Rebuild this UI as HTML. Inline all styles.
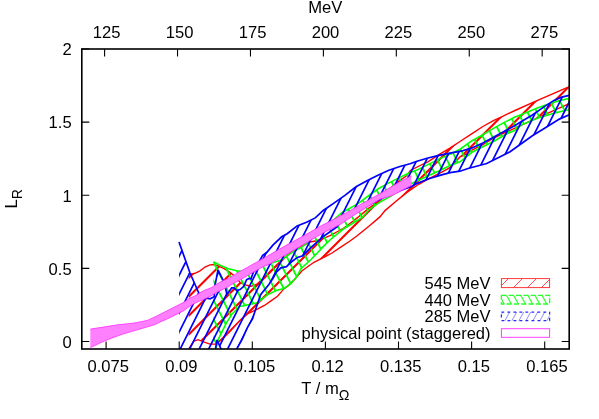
<!DOCTYPE html>
<html><head><meta charset="utf-8"><title>plot</title>
<style>html,body{margin:0;padding:0;background:#fff}svg{display:block;will-change:transform}text{font-family:"Liberation Sans",sans-serif;fill:#000}</style></head>
<body>
<svg width="599" height="419" viewBox="0 0 599 419">
<rect x="0" y="0" width="599" height="419" fill="#fff"/>
<defs>
<clipPath id="plot"><rect x="81.8" y="49.0" width="487.4" height="300.0"/></clipPath>
<clipPath id="c-red"><polygon points="188.7,273.6 192.0,274.0 195.0,273.3 200.0,270.8 205.0,267.0 210.0,264.9 214.2,264.5 218.4,265.8 224.2,268.7 230.0,272.4 234.2,275.8 240.0,282.3 245.5,285.0 251.0,286.2 256.5,284.5 262.0,279.6 267.4,274.1 272.9,268.6 277.3,264.2 285.0,257.0 295.0,249.0 310.0,242.0 316.7,240.7 323.4,238.4 330.0,235.7 336.7,232.0 343.4,228.3 348.0,225.0 357.9,217.4 368.9,208.1 374.4,204.3 385.0,193.0 397.7,181.8 406.5,175.8 410.3,170.5 421.2,165.0 427.9,161.8 438.9,154.7 449.9,148.1 460.0,141.5 472.0,133.6 482.9,126.5 493.9,120.4 501.6,116.8 515.0,110.5 533.6,102.1 569.3,86.7 569.3,103.7 539.6,116.9 515.0,128.1 504.9,132.5 493.9,138.0 482.9,144.6 472.0,150.0 466.5,153.9 460.0,156.9 450.0,167.7 439.9,173.2 428.9,178.7 417.9,184.8 407.0,192.4 396.0,201.2 385.0,210.6 379.9,216.9 368.9,226.2 356.8,236.0 350.0,241.0 340.0,247.7 332.0,253.0 323.8,257.3 313.9,262.3 301.8,271.0 295.0,279.0 288.3,285.6 283.9,288.9 277.5,296.3 271.0,300.9 264.4,305.5 257.8,308.8 251.3,312.1 248.3,313.3 240.0,320.5 229.9,331.4 221.1,340.2 215.6,344.1 210.1,344.1 203.5,341.9 198.0,339.7 193.7,341.3 189.3,347.9 188.7,355.0"/></clipPath>
<clipPath id="c-green"><polygon points="213.4,261.7 220.0,265.3 228.4,268.7 236.7,270.8 240.0,271.2 250.0,271.0 262.0,266.0 281.0,260.1 292.0,252.4 302.9,246.4 320.0,232.0 341.5,213.0 358.0,203.7 368.9,195.5 377.9,189.0 388.9,182.9 399.9,177.4 410.0,172.5 417.0,170.1 427.9,164.6 438.9,159.1 449.9,154.2 460.0,149.2 472.0,140.7 482.9,134.7 493.9,128.1 504.9,122.1 515.0,117.1 521.0,114.7 537.4,108.1 553.9,102.1 569.3,98.2 569.3,109.5 553.9,113.2 537.4,118.2 521.0,125.1 515.0,130.3 504.9,134.7 493.9,141.3 482.9,146.8 472.0,152.3 460.0,161.8 450.0,165.5 439.9,170.5 428.9,175.4 417.9,180.4 411.4,183.7 400.0,190.0 390.0,196.6 379.9,202.1 368.9,209.8 362.6,217.2 354.9,222.0 348.7,225.7 343.4,229.0 336.7,234.3 330.0,240.0 323.4,246.4 317.3,253.0 311.0,259.5 300.7,268.9 297.1,276.3 290.5,284.0 283.9,288.4 276.2,290.5 267.4,294.9 257.6,302.6 251.0,304.3 243.3,305.9 240.0,306.2 232.1,313.9 226.6,322.7 222.2,331.4 218.4,339.1 216.2,347.9 213.4,355.0"/></clipPath>
<clipPath id="c-blue"><polygon points="179.0,242.0 190.0,273.0 199.0,293.5 206.7,298.2 210.0,298.8 214.2,296.7 215.0,285.4 218.0,270.0 223.4,280.8 226.0,290.0 226.9,294.4 229.5,291.0 231.7,287.9 234.2,287.9 236.7,290.5 240.0,289.6 243.4,286.7 245.0,283.4 246.6,279.6 249.3,278.5 251.0,279.0 253.0,273.0 262.5,255.6 266.9,252.3 272.9,245.1 281.7,236.8 287.2,233.7 297.1,225.9 306.5,222.3 315.3,217.9 322.9,210.7 333.9,203.1 344.9,195.4 356.0,186.8 367.0,180.7 377.9,175.3 388.9,170.3 399.9,166.5 410.0,163.7 417.0,161.3 427.9,158.0 438.9,155.3 449.9,153.1 461.0,151.2 472.0,147.9 482.9,142.9 493.9,136.9 504.9,130.9 515.0,125.4 521.0,121.8 532.0,115.3 542.9,107.6 553.9,100.4 561.6,97.1 569.3,95.3 569.3,114.7 559.4,119.1 546.2,127.3 532.0,136.0 510.1,151.8 486.7,163.5 468.0,168.5 460.0,171.2 450.0,172.7 439.9,175.4 428.9,178.7 417.9,183.1 411.4,186.4 390.0,194.5 374.4,202.0 357.9,211.0 341.5,221.0 336.7,227.0 330.0,231.7 323.4,236.4 316.7,242.4 310.0,248.4 302.9,255.7 297.4,257.4 292.0,261.5 286.5,266.6 281.0,267.8 276.4,272.0 272.9,278.5 268.5,285.1 263.1,291.6 260.5,295.0 256.5,306.8 252.6,318.6 247.3,327.8 242.0,339.6 236.8,348.8 236.5,350.0 221.5,350.0 217.0,340.0 214.5,355.0 179.2,355.0"/></clipPath>
<clipPath id="c-mag"><polygon points="90.3,328.7 118.0,324.4 134.0,322.7 147.4,320.0 150.0,318.8 158.0,315.0 166.7,310.5 183.4,302.1 190.0,297.7 195.0,295.5 203.4,290.4 211.7,287.1 216.7,283.7 223.4,280.0 228.4,278.3 241.7,270.0 245.0,268.3 266.9,256.0 283.9,246.2 294.9,240.2 305.0,234.7 321.8,225.0 330.0,220.9 346.7,212.1 363.4,202.5 380.0,193.3 388.9,187.9 399.9,181.3 411.3,175.4 411.3,185.9 392.2,196.0 380.0,199.6 367.6,207.1 355.0,215.0 340.0,225.0 325.0,232.3 313.9,238.7 292.0,251.6 270.0,264.2 262.0,267.7 251.0,273.8 245.0,277.5 230.0,285.7 228.4,287.1 216.7,292.7 211.7,295.9 203.4,300.0 195.0,303.4 190.0,306.4 183.4,311.3 166.7,319.6 160.0,322.4 155.0,325.0 150.0,326.5 138.0,330.0 122.0,334.7 106.0,340.7 90.3,348.0"/></clipPath>
</defs>
<g clip-path="url(#plot)" fill="none" stroke-linejoin="miter" stroke-miterlimit="3" stroke-linecap="butt">
<g clip-path="url(#c-red)"><path d="M183.7 245.1L574.3 -145.5M183.7 264.0L574.3 -126.6M183.7 282.9L574.3 -107.7M183.7 301.8L574.3 -88.8M183.7 320.7L574.3 -69.9M183.7 339.6L574.3 -51.0M183.7 358.5L574.3 -32.1M183.7 377.4L574.3 -13.2M183.7 396.3L574.3 5.7M183.7 415.2L574.3 24.6M183.7 434.1L574.3 43.5M183.7 453.0L574.3 62.4M183.7 471.9L574.3 81.3M183.7 490.8L574.3 100.2M183.7 509.7L574.3 119.1" stroke="#ff0000" stroke-width="2.1"/></g>
<polyline points="188.7,273.6 192.0,274.0 195.0,273.3 200.0,270.8 205.0,267.0 210.0,264.9 214.2,264.5 218.4,265.8 224.2,268.7 230.0,272.4 234.2,275.8 240.0,282.3 245.5,285.0 251.0,286.2 256.5,284.5 262.0,279.6 267.4,274.1 272.9,268.6 277.3,264.2 285.0,257.0 295.0,249.0 310.0,242.0 316.7,240.7 323.4,238.4 330.0,235.7 336.7,232.0 343.4,228.3 348.0,225.0 357.9,217.4 368.9,208.1 374.4,204.3 385.0,193.0 397.7,181.8 406.5,175.8 410.3,170.5 421.2,165.0 427.9,161.8 438.9,154.7 449.9,148.1 460.0,141.5 472.0,133.6 482.9,126.5 493.9,120.4 501.6,116.8 515.0,110.5 533.6,102.1 569.3,86.7" stroke="#ff0000" stroke-width="1.4"/>
<polyline points="188.7,355.0 189.3,347.9 193.7,341.3 198.0,339.7 203.5,341.9 210.1,344.1 215.6,344.1 221.1,340.2 229.9,331.4 240.0,320.5 248.3,313.3 251.3,312.1 257.8,308.8 264.4,305.5 271.0,300.9 277.5,296.3 283.9,288.9 288.3,285.6 295.0,279.0 301.8,271.0 313.9,262.3 323.8,257.3 332.0,253.0 340.0,247.7 350.0,241.0 356.8,236.0 368.9,226.2 379.9,216.9 385.0,210.6 396.0,201.2 407.0,192.4 417.9,184.8 428.9,178.7 439.9,173.2 450.0,167.7 460.0,156.9 466.5,153.9 472.0,150.0 482.9,144.6 493.9,138.0 504.9,132.5 515.0,128.1 539.6,116.9 569.3,103.7" stroke="#ff0000" stroke-width="1.4"/>
<g clip-path="url(#c-green)"><path d="M208.4 -658.8L574.3 73.0M208.4 -639.8L574.3 92.0M208.4 -620.8L574.3 111.0M208.4 -601.8L574.3 129.9M208.4 -582.9L574.3 148.9M208.4 -563.9L574.3 167.9M208.4 -544.9L574.3 186.9M208.4 -526.0L574.3 205.8M208.4 -507.0L574.3 224.8M208.4 -488.0L574.3 243.8M208.4 -469.1L574.3 262.7M208.4 -450.1L574.3 281.7M208.4 -431.1L574.3 300.7M208.4 -412.1L574.3 319.6M208.4 -393.2L574.3 338.6M208.4 -374.2L574.3 357.6M208.4 -355.2L574.3 376.6M208.4 -336.3L574.3 395.5M208.4 -317.3L574.3 414.5M208.4 -298.3L574.3 433.5M208.4 -279.4L574.3 452.4M208.4 -260.4L574.3 471.4M208.4 -241.4L574.3 490.4M208.4 -222.4L574.3 509.3M208.4 -203.5L574.3 528.3M208.4 -184.5L574.3 547.3M208.4 -165.5L574.3 566.3M208.4 -146.6L574.3 585.2M208.4 -127.6L574.3 604.2M208.4 -108.6L574.3 623.2M208.4 -89.7L574.3 642.1M208.4 -70.7L574.3 661.1M208.4 -51.7L574.3 680.1M208.4 -32.7L574.3 699.0M208.4 -13.8L574.3 718.0M208.4 5.2L574.3 737.0M208.4 24.2L574.3 756.0M208.4 43.1L574.3 774.9M208.4 62.1L574.3 793.9M208.4 81.1L574.3 812.9M208.4 100.0L574.3 831.8M208.4 119.0L574.3 850.8M208.4 138.0L574.3 869.8M208.4 156.9L574.3 888.7M208.4 175.9L574.3 907.7M208.4 194.9L574.3 926.7M208.4 213.9L574.3 945.7M208.4 232.8L574.3 964.6M208.4 251.8L574.3 983.6M208.4 270.8L574.3 1002.6M208.4 289.7L574.3 1021.5M208.4 308.7L574.3 1040.5M208.4 327.7L574.3 1059.5M208.4 346.6L574.3 1078.4M208.4 365.6L574.3 1097.4" stroke="#00ff00" stroke-width="1.8"/></g>
<polyline points="213.4,261.7 220.0,265.3 228.4,268.7 236.7,270.8 240.0,271.2 250.0,271.0 262.0,266.0 281.0,260.1 292.0,252.4 302.9,246.4 320.0,232.0 341.5,213.0 358.0,203.7 368.9,195.5 377.9,189.0 388.9,182.9 399.9,177.4 410.0,172.5 417.0,170.1 427.9,164.6 438.9,159.1 449.9,154.2 460.0,149.2 472.0,140.7 482.9,134.7 493.9,128.1 504.9,122.1 515.0,117.1 521.0,114.7 537.4,108.1 553.9,102.1 569.3,98.2" stroke="#00ff00" stroke-width="1.6"/>
<polyline points="213.4,355.0 216.2,347.9 218.4,339.1 222.2,331.4 226.6,322.7 232.1,313.9 240.0,306.2 243.3,305.9 251.0,304.3 257.6,302.6 267.4,294.9 276.2,290.5 283.9,288.4 290.5,284.0 297.1,276.3 300.7,268.9 311.0,259.5 317.3,253.0 323.4,246.4 330.0,240.0 336.7,234.3 343.4,229.0 348.7,225.7 354.9,222.0 362.6,217.2 368.9,209.8 379.9,202.1 390.0,196.6 400.0,190.0 411.4,183.7 417.9,180.4 428.9,175.4 439.9,170.5 450.0,165.5 460.0,161.8 472.0,152.3 482.9,146.8 493.9,141.3 504.9,134.7 515.0,130.3 521.0,125.1 537.4,118.2 553.9,113.2 569.3,109.5" stroke="#00ff00" stroke-width="1.6"/>
<g clip-path="url(#c-blue)"><path d="M174.0 228.6L574.3 -572.0M174.0 247.5L574.3 -553.1M174.0 266.5L574.3 -534.1M174.0 285.5L574.3 -515.1M174.0 304.4L574.3 -496.2M174.0 323.4L574.3 -477.2M174.0 342.4L574.3 -458.2M174.0 361.4L574.3 -439.2M174.0 380.3L574.3 -420.3M174.0 399.3L574.3 -401.3M174.0 418.3L574.3 -382.3M174.0 437.2L574.3 -363.4M174.0 456.2L574.3 -344.4M174.0 475.2L574.3 -325.4M174.0 494.1L574.3 -306.5M174.0 513.1L574.3 -287.5M174.0 532.1L574.3 -268.5M174.0 551.0L574.3 -249.5M174.0 570.0L574.3 -230.6M174.0 589.0L574.3 -211.6M174.0 608.0L574.3 -192.6M174.0 626.9L574.3 -173.7M174.0 645.9L574.3 -154.7M174.0 664.9L574.3 -135.7M174.0 683.8L574.3 -116.8M174.0 702.8L574.3 -97.8M174.0 721.8L574.3 -78.8M174.0 740.8L574.3 -59.8M174.0 759.7L574.3 -40.9M174.0 778.7L574.3 -21.9M174.0 797.7L574.3 -2.9M174.0 816.6L574.3 16.0M174.0 835.6L574.3 35.0M174.0 854.6L574.3 54.0M174.0 873.5L574.3 72.9M174.0 892.5L574.3 91.9M174.0 911.5L574.3 110.9M174.0 930.4L574.3 129.8" stroke="#0000ff" stroke-width="1.7"/></g>
<polyline points="179.0,242.0 190.0,273.0 199.0,293.5 206.7,298.2 210.0,298.8 214.2,296.7 215.0,285.4 218.0,270.0 223.4,280.8 226.0,290.0 226.9,294.4 229.5,291.0 231.7,287.9 234.2,287.9 236.7,290.5 240.0,289.6 243.4,286.7 245.0,283.4 246.6,279.6 249.3,278.5 251.0,279.0 253.0,273.0 262.5,255.6 266.9,252.3 272.9,245.1 281.7,236.8 287.2,233.7 297.1,225.9 306.5,222.3 315.3,217.9 322.9,210.7 333.9,203.1 344.9,195.4 356.0,186.8 367.0,180.7 377.9,175.3 388.9,170.3 399.9,166.5 410.0,163.7 417.0,161.3 427.9,158.0 438.9,155.3 449.9,153.1 461.0,151.2 472.0,147.9 482.9,142.9 493.9,136.9 504.9,130.9 515.0,125.4 521.0,121.8 532.0,115.3 542.9,107.6 553.9,100.4 561.6,97.1 569.3,95.3" stroke="#0000ff" stroke-width="1.7"/>
<polyline points="179.2,355.0 214.5,355.0 217.0,340.0 221.5,350.0 236.5,350.0 236.8,348.8 242.0,339.6 247.3,327.8 252.6,318.6 256.5,306.8 260.5,295.0 263.1,291.6 268.5,285.1 272.9,278.5 276.4,272.0 281.0,267.8 286.5,266.6 292.0,261.5 297.4,257.4 302.9,255.7 310.0,248.4 316.7,242.4 323.4,236.4 330.0,231.7 336.7,227.0 341.5,221.0 357.9,211.0 374.4,202.0 390.0,194.5 411.4,186.4 417.9,183.1 428.9,178.7 439.9,175.4 450.0,172.7 460.0,171.2 468.0,168.5 486.7,163.5 510.1,151.8 532.0,136.0 546.2,127.3 559.4,119.1 569.3,114.7" stroke="#0000ff" stroke-width="1.7"/>
<polygon points="90.3,329.1 118.0,324.8 134.0,323.1 147.4,320.4 150.0,319.2 158.0,315.4 166.7,310.9 183.4,302.5 190.0,298.1 195.0,295.9 203.4,290.8 211.7,287.5 216.7,284.1 223.4,280.4 228.4,278.7 241.7,270.4 245.0,268.7 266.9,256.4 283.9,246.6 294.9,240.6 305.0,235.1 321.8,225.4 330.0,221.3 346.7,212.5 363.4,202.9 380.0,193.7 388.9,188.3 399.9,181.7 411.3,175.8 411.3,185.5 392.2,195.6 380.0,199.2 367.6,206.7 355.0,214.6 340.0,224.6 325.0,231.9 313.9,238.3 292.0,251.2 270.0,263.8 262.0,267.3 251.0,273.4 245.0,277.1 230.0,285.3 228.4,286.7 216.7,292.3 211.7,295.5 203.4,299.6 195.0,303.0 190.0,306.0 183.4,310.9 166.7,319.2 160.0,322.0 155.0,324.6 150.0,326.1 138.0,329.6 122.0,334.3 106.0,340.3 90.3,347.6" fill="#ff80ff"/>
<polyline points="90.3,329.1 118.0,324.8 134.0,323.1 147.4,320.4 150.0,319.2 158.0,315.4 166.7,310.9 183.4,302.5 190.0,298.1 195.0,295.9 203.4,290.8 211.7,287.5 216.7,284.1 223.4,280.4 228.4,278.7 241.7,270.4 245.0,268.7 266.9,256.4 283.9,246.6 294.9,240.6 305.0,235.1 321.8,225.4 330.0,221.3 346.7,212.5 363.4,202.9 380.0,193.7 388.9,188.3 399.9,181.7 411.3,175.8" stroke="#ff28ff" stroke-width="0.8"/>
<polyline points="411.3,185.5 392.2,195.6 380.0,199.2 367.6,206.7 355.0,214.6 340.0,224.6 325.0,231.9 313.9,238.3 292.0,251.2 270.0,263.8 262.0,267.3 251.0,273.4 245.0,277.1 230.0,285.3 228.4,286.7 216.7,292.3 211.7,295.5 203.4,299.6 195.0,303.0 190.0,306.0 183.4,310.9 166.7,319.2 160.0,322.0 155.0,324.6 150.0,326.1 138.0,329.6 122.0,334.3 106.0,340.3 90.3,347.6" stroke="#ff28ff" stroke-width="0.8"/>
</g>
<rect x="81.8" y="49.0" width="487.4" height="300.0" fill="none" stroke="#000" stroke-width="1.6"/>
<path d="M81.8 341.50h7.5M569.2 341.50h-7.5M81.8 268.38h7.5M569.2 268.38h-7.5M81.8 195.25h7.5M569.2 195.25h-7.5M81.8 122.12h7.5M569.2 122.12h-7.5M81.8 49.00h7.5M569.2 49.00h-7.5M106.10 349.0v-7.5M179.20 349.0v-7.5M252.30 349.0v-7.5M325.40 349.0v-7.5M398.50 349.0v-7.5M471.60 349.0v-7.5M544.70 349.0v-7.5M104.60 49.0v7.5M177.53 49.0v7.5M250.46 49.0v7.5M323.39 49.0v7.5M396.32 49.0v7.5M469.25 49.0v7.5M542.18 49.0v7.5" stroke="#000" stroke-width="1.1" fill="none"/>
<g font-size="16.6">
<text x="71.7" y="347.8" text-anchor="end">0</text>
<text x="71.7" y="274.7" text-anchor="end">0.5</text>
<text x="71.7" y="201.6" text-anchor="end">1</text>
<text x="71.7" y="128.4" text-anchor="end">1.5</text>
<text x="71.7" y="55.3" text-anchor="end">2</text>
<text x="108.3" y="371.6" text-anchor="middle">0.075</text>
<text x="181.4" y="371.6" text-anchor="middle">0.09</text>
<text x="254.5" y="371.6" text-anchor="middle">0.105</text>
<text x="327.6" y="371.6" text-anchor="middle">0.12</text>
<text x="400.7" y="371.6" text-anchor="middle">0.135</text>
<text x="473.8" y="371.6" text-anchor="middle">0.15</text>
<text x="546.9" y="371.6" text-anchor="middle">0.165</text>
<text x="106.7" y="37.6" text-anchor="middle">125</text>
<text x="179.6" y="37.6" text-anchor="middle">150</text>
<text x="252.6" y="37.6" text-anchor="middle">175</text>
<text x="325.5" y="37.6" text-anchor="middle">200</text>
<text x="398.4" y="37.6" text-anchor="middle">225</text>
<text x="471.4" y="37.6" text-anchor="middle">250</text>
<text x="544.3" y="37.6" text-anchor="middle">275</text>
<text x="325.3" y="12.8" text-anchor="middle">MeV</text>
<text x="301.3" y="394.2">T / m<tspan font-size="14.3" dy="5.6">Ω</tspan></text>
<text transform="translate(17.1,208.5) rotate(-90)">L<tspan font-size="14" dy="5">R</tspan></text>
<text x="490.5" y="288.8" text-anchor="end" font-size="16.5">545 MeV</text>
<text x="490.5" y="305.5" text-anchor="end" font-size="16.5">440 MeV</text>
<text x="490.5" y="322.2" text-anchor="end" font-size="16.5">285 MeV</text>
<text x="490.5" y="338.9" text-anchor="end" font-size="16.5">physical point (staggered)</text>
</g>
<defs><clipPath id="k0"><rect x="501.4" y="278.6" width="48.2" height="9.0"/></clipPath><clipPath id="k1"><rect x="501.4" y="295.3" width="48.2" height="8.9"/></clipPath><clipPath id="k2"><rect x="501.4" y="311.9" width="48.2" height="8.8"/></clipPath></defs>
<path clip-path="url(#k0)" d="M484.0 289L496.0 277M498.0 289L510.0 277M512.0 289L524.0 277M526.0 289L538.0 277M540.0 289L552.0 277M554.0 289L566.0 277" stroke="#ff3030" stroke-width="0.85" fill="none"/>
<rect x="501.4" y="278.6" width="48.2" height="9.0" fill="none" stroke="#ff3030" stroke-width="0.95"/>
<path clip-path="url(#k1)" d="M491.8 294.3l6 11M498.9 294.3l6 11M506.0 294.3l6 11M513.1 294.3l6 11M520.2 294.3l6 11M527.3 294.3l6 11M534.4 294.3l6 11M541.5 294.3l6 11M548.6 294.3l6 11" stroke="#38ff38" stroke-width="1.25" fill="none"/>
<rect x="501.4" y="295.3" width="48.2" height="8.7" fill="none" stroke="#28ff28" stroke-width="1.35" stroke-dasharray="5 2.3"/>
<path clip-path="url(#k2)" d="M497.4 321.7l6 -11M504.4 321.7l6 -11M511.4 321.7l6 -11M518.4 321.7l6 -11M525.4 321.7l6 -11M532.4 321.7l6 -11M539.4 321.7l6 -11M546.4 321.7l6 -11M553.4 321.7l6 -11" stroke="#8080ff" stroke-width="0.9" fill="none"/>
<rect x="501.4" y="312.0" width="48.2" height="8.5" fill="none" stroke="#2828ff" stroke-width="1.25" stroke-dasharray="2.8 3.2"/>
<rect x="501.4" y="328.7" width="48.2" height="8.6" fill="none" stroke="#ff40ff" stroke-width="1.0"/>
</svg>
</body></html>
